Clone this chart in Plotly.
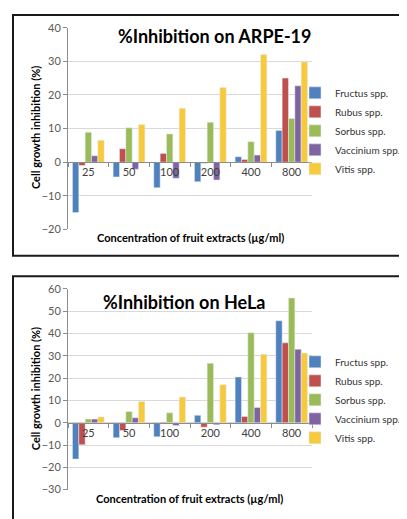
import plotly.graph_objects as go

# page offset of the plot div (default body margin) -> figure fits the 407x519 window
OFF = 8
W, H = 407 - OFF, 519 - OFF

concentrations = ["25", "50", "100", "200", "400", "800"]
species = ["Fructus spp.", "Rubus spp.", "Sorbus spp.", "Vaccinium spp.", "Vitis spp."]
colors = ["#4F81BD", "#C0504D", "#9BBB59", "#8064A2", "#F7C93C"]

# %Inhibition on ARPE-19
arpe_fructus = [-15.0, -4.4, -7.6, -5.8, 1.6, 9.4]
arpe_rubus = [-1.0, 4.0, 2.6, -0.3, 0.8, 25.0]
arpe_sorbus = [8.9, 10.2, 8.4, 11.9, 6.1, 13.0]
arpe_vaccinium = [1.9, -2.1, -4.8, -5.3, 2.1, 22.7]
arpe_vitis = [6.5, 11.2, 16.0, 22.2, 32.0, 29.8]

# %Inhibition on HeLa
hela_fructus = [-16.3, -6.7, -6.3, 3.3, 20.5, 45.7]
hela_rubus = [-9.9, -3.5, 0.3, -2.0, 2.8, 35.8]
hela_sorbus = [1.6, 5.0, 4.4, 26.6, 40.3, 55.9]
hela_vaccinium = [1.6, 2.2, -1.3, -0.9, 6.8, 32.9]
hela_vitis = [2.6, 9.5, 11.5, 17.0, 30.7, 31.2]

arpe = [arpe_fructus, arpe_rubus, arpe_sorbus, arpe_vaccinium, arpe_vitis]
hela = [hela_fructus, hela_rubus, hela_sorbus, hela_vaccinium, hela_vitis]

FONT = "Lato, 'Open Sans', sans-serif"

def px(x):
    return (x - OFF) / W

def py(y):
    return 1 - (y - OFF) / H

top_range = [-20, 40]
bot_range = [-30, 60]
top_dom = [py(228), py(21)]
bot_dom = [py(495), py(289)]
x_dom = [px(68), px(312)]

def zero_pos(rng, dom):
    return dom[0] + (0 - rng[0]) / (rng[1] - rng[0]) * (dom[1] - dom[0])

fig = go.Figure()
for name, vals, col in zip(species, arpe, colors):
    fig.add_trace(go.Bar(x=concentrations, y=vals, name=name, marker_color=col,
                         xaxis="x", yaxis="y", legend="legend"))
for name, vals, col in zip(species, hela, colors):
    fig.add_trace(go.Bar(x=concentrations, y=vals, name=name, marker_color=col,
                         xaxis="x2", yaxis="y2", legend="legend2"))

yax = dict(dtick=10, showgrid=True, gridcolor="#D9D9D9", gridwidth=1,
           showline=True, linecolor="#8C8C8C", linewidth=1, zeroline=False,
           ticks="outside", ticklen=4, tickcolor="#8C8C8C",
           tickfont=dict(family=FONT, size=11, color="#595959"))
xax = dict(type="category", showgrid=False, showline=True, linecolor="#8C8C8C",
           linewidth=1, ticks="outside", ticklen=4, tickcolor="#8C8C8C",
           tickson="boundaries", domain=x_dom, anchor="free",
           tickfont=dict(family=FONT, size=11, color="#404040"))

legend_common = dict(font=dict(family=FONT, size=10, color="#333333"),
                     bgcolor="rgba(0,0,0,0)", xanchor="left", yanchor="top",
                     tracegroupgap=0, itemwidth=30)

fig.update_layout(
    width=W, height=H,
    margin=dict(l=0, r=0, t=0, b=0),
    paper_bgcolor="white", plot_bgcolor="white",
    barmode="group", bargap=0.22, bargroupgap=0,
    xaxis=dict(**xax, position=zero_pos(top_range, top_dom)),
    yaxis=dict(**yax, domain=top_dom, range=top_range, anchor="x"),
    xaxis2=dict(**xax, position=zero_pos(bot_range, bot_dom)),
    yaxis2=dict(**yax, domain=bot_dom, range=bot_range, anchor="x2"),
    legend=dict(**legend_common, x=px(295), y=py(73)),
    legend2=dict(**legend_common, x=px(295), y=py(349)),
    font=dict(family=FONT),
)

annots = [
    dict(text="<b>%Inhibition on ARPE-19</b>", x=px(215), y=py(30), size=18),
    dict(text="<b>%Inhibition on HeLa</b>", x=px(184), y=py(303), size=18),
    dict(text="<b>Concentration of fruit extracts (µg/ml)</b>", x=px(190), y=py(236), size=11),
    dict(text="<b>Concentration of fruit extracts (µg/ml)</b>", x=px(189), y=py(504), size=11),
]
for a in annots:
    fig.add_annotation(text=a["text"], x=a["x"], y=a["y"], xref="paper", yref="paper",
                       showarrow=False, xanchor="center", yanchor="middle",
                       font=dict(family=FONT, size=a["size"], color="#000000"))
for yc in (py(124), py(392)):
    fig.add_annotation(text="<b>Cell growth inhibition (%)</b>", x=px(35), y=yc,
                       xref="paper", yref="paper", showarrow=False, textangle=-90,
                       xanchor="center", yanchor="middle",
                       font=dict(family=FONT, size=11, color="#000000"))

# chart frames
fig.add_shape(type="rect", xref="paper", yref="paper", x0=px(13), x1=1.02,
              y0=py(255), y1=py(8), line=dict(color="#1A1A1A", width=2))
fig.add_shape(type="rect", xref="paper", yref="paper", x0=px(13), x1=1.02,
              y0=-0.02, y1=py(276), line=dict(color="#1A1A1A", width=2))

fig.write_html("out.html")
